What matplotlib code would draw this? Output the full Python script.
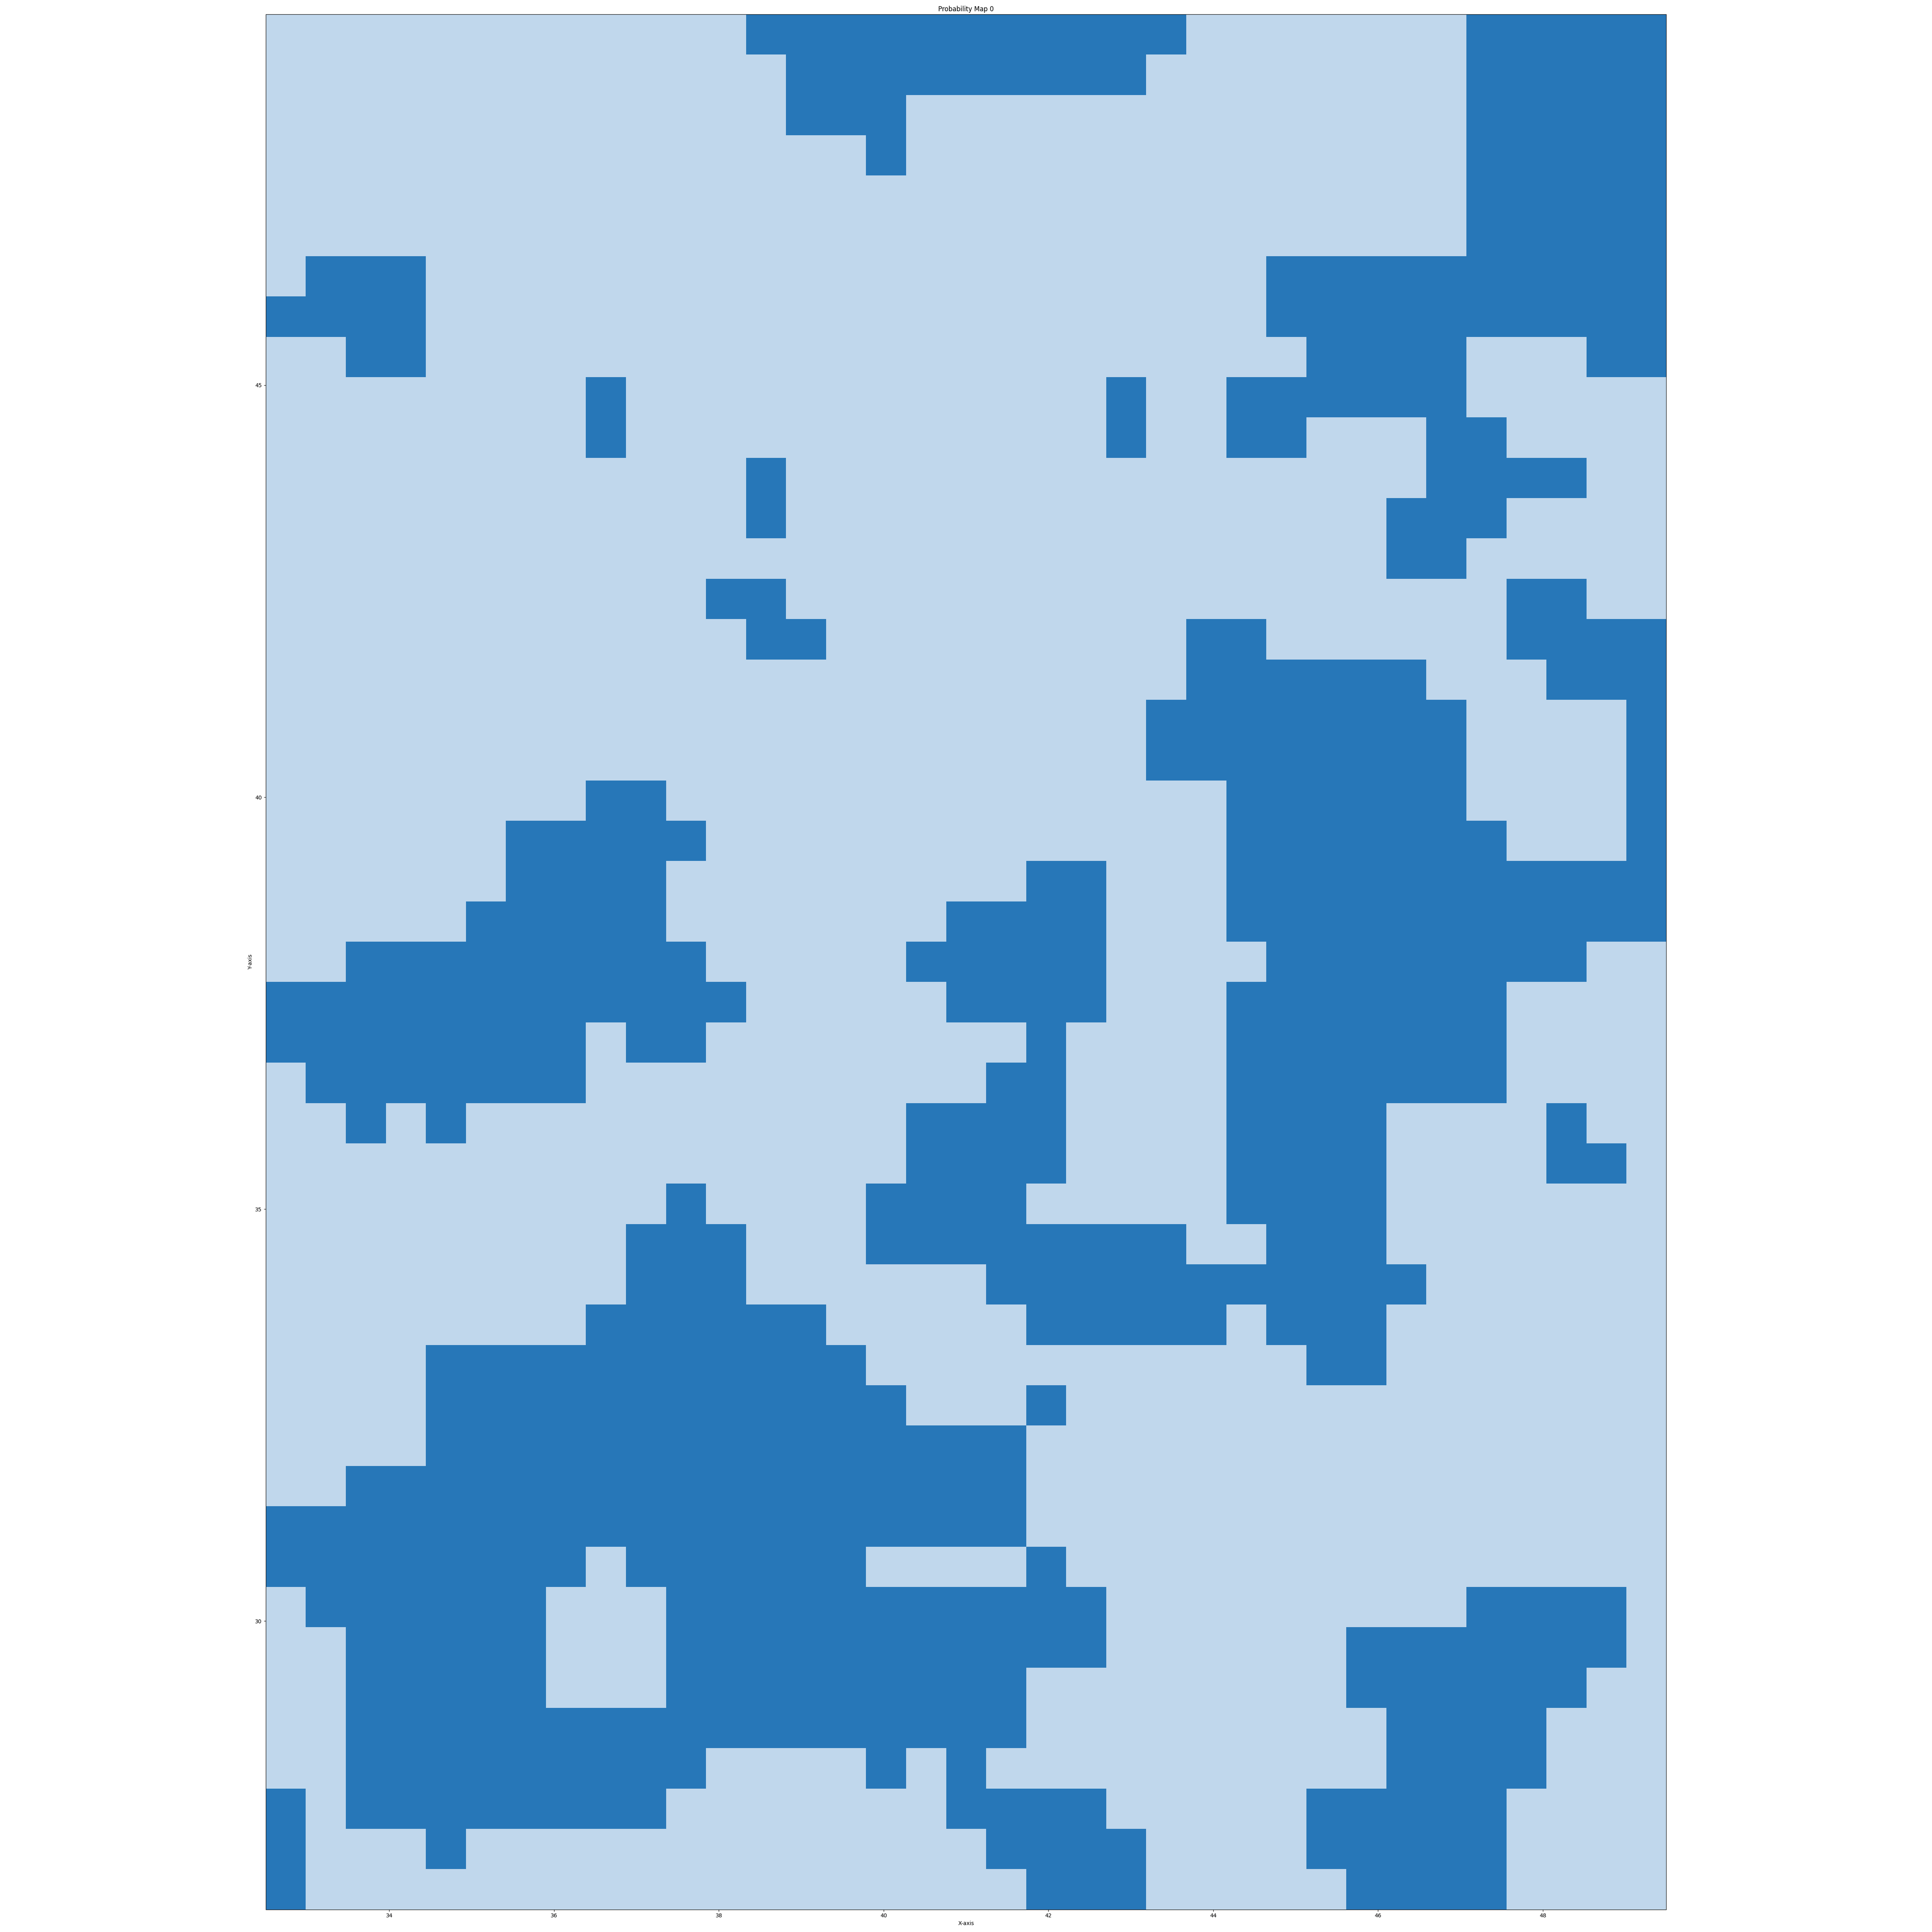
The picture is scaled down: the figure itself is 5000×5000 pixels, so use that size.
import numpy as np
import matplotlib
matplotlib.use("Agg")
import matplotlib.pyplot as plt
from matplotlib.colors import ListedColormap

# grid extent (lon / lat of the outer cell edges)
lon_min, lon_max = 32.5, 49.5
lat_min, lat_max = 26.5, 49.5

# thresholded probability map, top row = northernmost, "1" = high probability
prob_rows = [
    "00000000000011111111111000000011111",
    "00000000000001111111110000000011111",
    "00000000000001110000000000000011111",
    "00000000000000010000000000000011111",
    "00000000000000000000000000000011111",
    "00000000000000000000000000000011111",
    "01110000000000000000000001111111111",
    "11110000000000000000000001111111111",
    "00110000000000000000000000111100011",
    "00000000100000000000010011111100000",
    "00000000100000000000010011000110000",
    "00000000000010000000000000000111100",
    "00000000000010000000000000001110000",
    "00000000000000000000000000001100000",
    "00000000000110000000000000000001100",
    "00000000000011000000000110000001111",
    "00000000000000000000000111111000111",
    "00000000000000000000001111111100001",
    "00000000000000000000001111111100001",
    "00000000110000000000000011111100001",
    "00000011111000000000000011111110001",
    "00000011110000000001100011111111111",
    "00000111110000000111100011111111111",
    "00111111111000001111100001111111100",
    "11111111111100000111100011111110000",
    "11111111011000000001000011111110000",
    "01111111000000000011000011111110000",
    "00101000000000001111000011110000100",
    "00000000000000001111000011110000110",
    "00000000001000011110000011110000000",
    "00000000011100011111111001110000000",
    "00000000011100000011111111111000000",
    "00000000111111000001111101110000000",
    "00001111111111100000000000110000000",
    "00001111111111110001000000000000000",
    "00001111111111111110000000000000000",
    "00111111111111111110000000000000000",
    "11111111111111111110000000000000000",
    "11111111011111100001000000000000000",
    "01111110001111111111100000000011110",
    "00111110001111111111100000011111110",
    "00111110001111111110000000011111100",
    "00111111111111111110000000001111000",
    "00111111111000010100000000001111000",
    "10111111110000000111100000111110000",
    "10001000000000000011110000111110000",
    "10000000000000000001110000011110000",
]

low_color = "#c0d7ec"
high_color = "#2777b8"

grid = np.array([[int(c) for c in row] for row in prob_rows])

fig, ax = plt.subplots(figsize=(50, 50))
ax.imshow(
    grid,
    cmap=ListedColormap([low_color, high_color]),
    vmin=0,
    vmax=1,
    interpolation="nearest",
    extent=[lon_min, lon_max, lat_min, lat_max],
)
ax.set_title("Probability Map 0")
ax.set_xlabel("X-axis")
ax.set_ylabel("Y-axis")
fig.tight_layout()
fig.savefig("out.png", dpi=100)
plt.close(fig)
